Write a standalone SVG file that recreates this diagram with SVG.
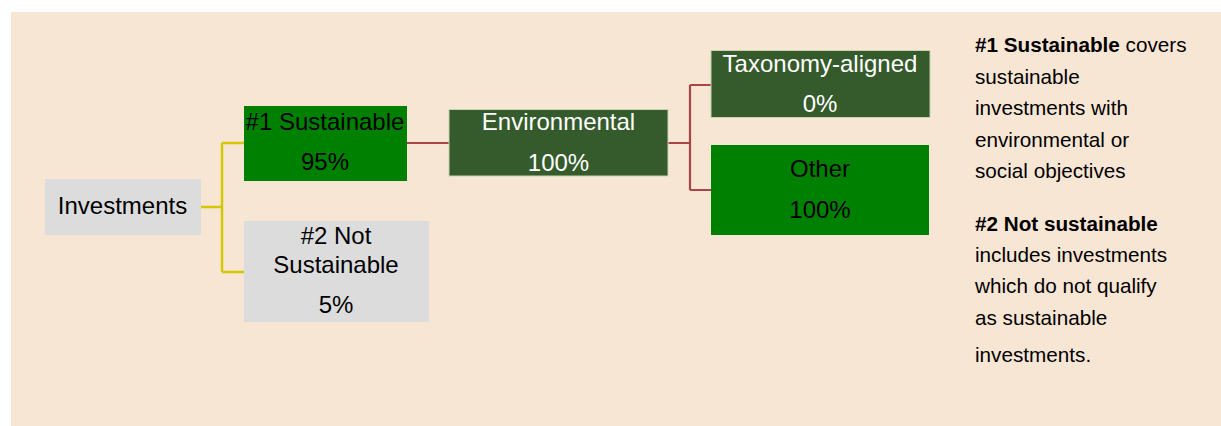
<svg xmlns="http://www.w3.org/2000/svg" width="1221" height="426" viewBox="0 0 1221 426">
<style>
text{font-family:"Liberation Sans",Arial,sans-serif;}
.n{font-size:24px;text-anchor:middle;}
.k{fill:#000;}
.w{fill:#fff;}
.grey{fill:#dcdcdc;}
.green{fill:#008000;}
.dark{fill:#355a2b;stroke:#c8d2b0;stroke-width:1;}
.y{fill:none;stroke:#d2c700;stroke-width:2.5;}
.r{fill:none;stroke:#a8444a;stroke-width:2.2;}
.d{font-size:20.7px;fill:#000;}
.b{font-weight:bold;}
</style>
<rect x="11" y="12" width="1210" height="414" fill="#f8e6d4"/>
<g id="connectors">
<path class="y" d="M201 207H222M222 143V272M222 143H244M222 272H244"/>
<path class="r" d="M407 143H449"/>
<path class="r" d="M668 143H690M690 85V190M690 85H711M690 190H711"/>
</g>
<g id="investments">
<rect class="grey" x="45" y="179" width="156" height="56"/>
<text class="n k" x="122.5" y="214">Investments</text>
</g>
<g id="sustainable">
<rect class="green" x="244" y="106" width="163" height="75"/>
<text class="n k" x="325" y="130">#1 Sustainable</text>
<text class="n k" x="325" y="170">95%</text>
</g>
<g id="not-sustainable">
<rect class="grey" x="244" y="221" width="185" height="101"/>
<text class="n k" x="336" y="244">#2 Not</text>
<text class="n k" x="336" y="273">Sustainable</text>
<text class="n k" x="336" y="313">5%</text>
</g>
<g id="environmental">
<rect class="dark" x="449" y="109.5" width="219" height="66.5"/>
<text class="n w" x="558.5" y="130">Environmental</text>
<text class="n w" x="558.5" y="171">100%</text>
</g>
<g id="taxonomy">
<rect class="dark" x="711" y="50.5" width="219" height="67"/>
<text class="n w" x="820" y="72">Taxonomy-aligned</text>
<text class="n w" x="820" y="112">0%</text>
</g>
<g id="other">
<rect class="green" x="711" y="145" width="218" height="90"/>
<text class="n k" x="820" y="177">Other</text>
<text class="n k" x="820" y="218">100%</text>
</g>
<g id="description">
<text class="d" x="975" y="52"><tspan class="b">#1 Sustainable</tspan> covers</text>
<text class="d" x="975" y="83.5">sustainable</text>
<text class="d" x="975" y="115">investments with</text>
<text class="d" x="975" y="146.5">environmental or</text>
<text class="d" x="975" y="178">social objectives</text>
<text class="d b" x="975" y="231">#2 Not sustainable</text>
<text class="d" x="975" y="262">includes investments</text>
<text class="d" x="975" y="293">which do not qualify</text>
<text class="d" x="975" y="325">as sustainable</text>
<text class="d" x="975" y="362">investments.</text>
</g>
</svg>
